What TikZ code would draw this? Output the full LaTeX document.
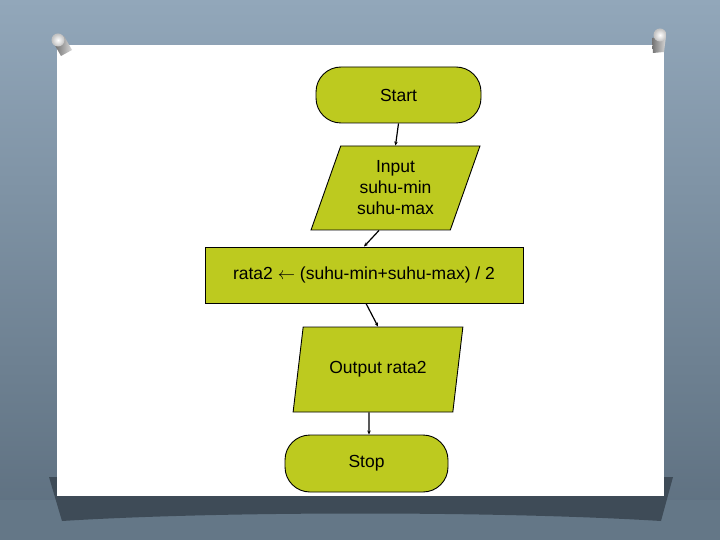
\documentclass[tikz,border=0pt]{standalone}
\usepackage{fontspec}
\setmainfont{Liberation Sans}
\usetikzlibrary{shapes.geometric,arrows.meta,calc}
\definecolor{fc}{RGB}{189,202,31}
\definecolor{bgtop}{RGB}{146,167,186}
\definecolor{bgbot}{RGB}{92,110,126}
\definecolor{shad}{RGB}{62,75,87}
\tikzset{
  flow/.style={draw=black, line width=0.9pt, fill=fc, font=\fontsize{17.5}{21}\selectfont, align=center, inner sep=0pt},
  term/.style={flow, rectangle, rounded corners=25pt},
  io/.style={flow, trapezium, trapezium stretches=true},
  proc/.style={flow, rectangle},
  conn/.style={line width=1.2pt, -{Stealth[length=4pt,width=3.5pt]}},
}
\begin{document}
\begin{tikzpicture}[x=1pt,y=-1pt]
\useasboundingbox (0,0) rectangle (720,540);
% background
\shade[top color=bgtop, bottom color=bgbot] (0,0) rectangle (720,540);
\fill[bgbot!85!bgtop] (0,500) rectangle (720,540);
% shadow under paper
\fill[shad] (49,477) -- (673,477) -- (661,521) .. controls (500,511) and (220,511) .. (62,521) -- cycle;
% paper
\fill[white] (57,45) rectangle (664,496);
% pins
\shade[left color=black!60, right color=black!15] (53,42) -- (64,36) -- (72,50) -- (61,56) -- cycle;
\shade[inner color=white, outer color=black!25] (58,40) circle (6.5);
\shade[left color=black!55, right color=black!15] (652,38) -- (666,36) -- (664,52) -- (653,53) -- cycle;
\shade[inner color=white, outer color=black!25] (660,35) circle (6.5);
% flowchart
\node[term, minimum width=165, minimum height=56] (start) at (398.5,95) {Start};
\node[io, trapezium left angle=69, trapezium right angle=111, minimum width=169, minimum height=84] (in) at (395.5,188) {Input\\suhu-min\\suhu-max};
\node[proc, minimum width=318, minimum height=56] (calc) at (364,275) {rata2 $\leftarrow$ (suhu-min+suhu-max) / 2};
\node[io, trapezium left angle=67.6, trapezium right angle=112.4, minimum width=170, minimum height=85] (out) at (378,369.5) {Output rata2};
\node[term, minimum width=163, minimum height=57] (stop) at (366.5,463.5) {Stop};
\draw[conn] (start.south) -- (in.north);
\draw[conn] ([xshift=-16.5]in.south) -- (calc.north);
\draw[conn] ([xshift=2]calc.south) -- (out.north);
\draw[conn] ([xshift=-9]out.south) -- ([xshift=2.5]stop.north);
\end{tikzpicture}
\end{document}
